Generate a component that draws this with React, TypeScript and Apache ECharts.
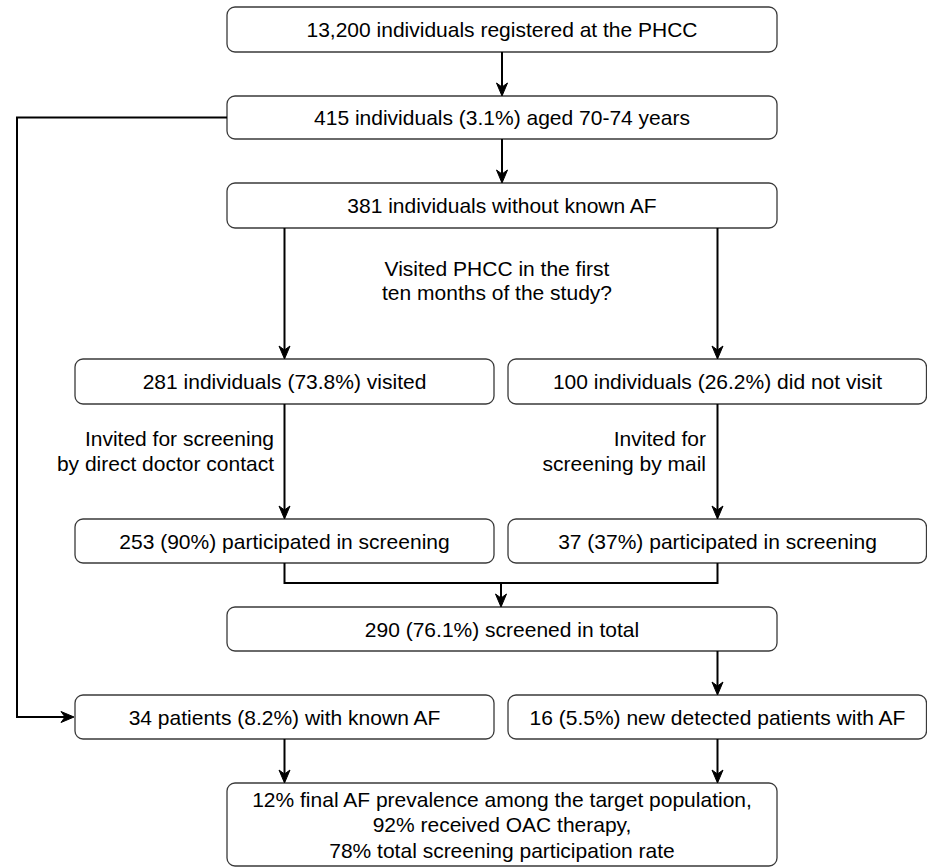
import React, { useEffect, useRef } from "react";
import * as echarts from "echarts";

// Flowchart content
const centerLabels: string[] = [
  "13,200 individuals registered at the PHCC",
  "415 individuals (3.1%) aged 70-74 years",
  "381 individuals without known AF",
  "290 (76.1%) screened in total",
];
const leftLabels: string[] = [
  "281 individuals (73.8%) visited",
  "253 (90%) participated in screening",
  "34 patients (8.2%) with known AF",
];
const rightLabels: string[] = [
  "100 individuals (26.2%) did not visit",
  "37 (37%) participated in screening",
  "16 (5.5%) new detected patients with AF",
];
const finalLines: string[] = [
  "12% final AF prevalence among the target population,",
  "92% received OAC therapy,",
  "78% total screening participation rate",
];
const questionLines: string[] = ["Visited PHCC in the first", "ten months of the study?"];
const leftNoteLines: string[] = ["Invited for screening", "by direct doctor contact"];
const rightNoteLines: string[] = ["Invited for", "screening by mail"];

// Layout
const CX0 = 227, CW = 550;
const LX0 = 75, LW = 419;
const RX0 = 508, RW = 418.5;
const LMID = 284.5, RMID = 717.5, CMID = 502;
const centerY: [number, number][] = [[7, 45], [96, 43], [183, 45], [607, 44]];
const sideY: [number, number][] = [[359, 45], [519, 44], [695, 44]];
const finalBox = { y: 783, h: 83 };

const FONT = '"Liberation Sans", Arial, sans-serif';
const FS = 21;

function box(x: number, y: number, w: number, h: number) {
  return {
    type: "rect",
    shape: { x, y, width: w, height: h, r: 8 },
    style: { fill: "#fff", stroke: "#3a3a3a", lineWidth: 1.3 },
    z: 1,
  };
}
function txt(text: string, x: number, y: number, align = "center") {
  return {
    type: "text",
    x,
    y,
    style: { text, fontSize: FS, fontFamily: FONT, fill: "#000", align, verticalAlign: "middle" },
    z: 3,
  };
}
function line(points: number[][]) {
  return {
    type: "polyline",
    shape: { points },
    style: { stroke: "#000", lineWidth: 2, fill: null },
    z: 2,
  };
}
function headDown(x: number, t: number) {
  return {
    type: "polygon",
    shape: { points: [[x, t], [x - 5.5, t - 13], [x, t - 9], [x + 5.5, t - 13]] },
    style: { fill: "#000", stroke: "#000", lineWidth: 1 },
    z: 2,
  };
}
function headRight(x: number, y: number) {
  return {
    type: "polygon",
    shape: { points: [[x, y], [x - 13, y - 5.5], [x - 9, y], [x - 13, y + 5.5]] },
    style: { fill: "#000", stroke: "#000", lineWidth: 1 },
    z: 2,
  };
}
function arrowDown(x: number, y1: number, y2: number) {
  return [line([[x, y1], [x, y2 - 8]]), headDown(x, y2)];
}

export default function App() {
  const ref = useRef<HTMLDivElement>(null);
  useEffect(() => {
    if (!ref.current) return;
    const chart = echarts.init(ref.current, undefined, { renderer: "svg" });
    const g: any[] = [];
    centerY.forEach(([y, h], i) => {
      g.push(box(CX0, y, CW, h));
      g.push(txt(centerLabels[i], CMID, y + h / 2));
    });
    sideY.forEach(([y, h], i) => {
      g.push(box(LX0, y, LW, h));
      g.push(txt(leftLabels[i], LMID, y + h / 2));
      g.push(box(RX0, y, RW, h));
      g.push(txt(rightLabels[i], RMID, y + h / 2));
    });
    g.push(box(CX0, finalBox.y, CW, finalBox.h));
    finalLines.forEach((s, i) => g.push(txt(s, CMID, 799 + i * 25.5)));
    questionLines.forEach((s, i) => g.push(txt(s, 497, 268 + i * 24)));
    leftNoteLines.forEach((s, i) => g.push(txt(s, 274, 438 + i * 25, "right")));
    rightNoteLines.forEach((s, i) => g.push(txt(s, 706, 438 + i * 25, "right")));

    g.push(...arrowDown(CMID, 52, 96));
    g.push(...arrowDown(CMID, 139, 183));
    g.push(...arrowDown(LMID, 228, 359));
    g.push(...arrowDown(RMID, 228, 359));
    g.push(...arrowDown(LMID, 404, 519));
    g.push(...arrowDown(RMID, 404, 519));
    g.push(line([[LMID, 563], [LMID, 583], [RMID, 583], [RMID, 563]]));
    g.push(...arrowDown(501, 583, 607));
    g.push(...arrowDown(RMID, 651, 695));
    g.push(...arrowDown(LMID, 739, 783));
    g.push(...arrowDown(RMID, 739, 783));
    g.push(line([[CX0, 117.5], [17, 117.5], [17, 717], [66, 717]]));
    g.push(headRight(74, 717));

    chart.setOption({ animation: false, graphic: { elements: g } });
    return () => chart.dispose();
  }, []);
  return (
    <div
      ref={ref}
      style={{ position: "absolute", left: 0, top: 0, width: 927, height: 867, background: "#fff" }}
    />
  );
}
